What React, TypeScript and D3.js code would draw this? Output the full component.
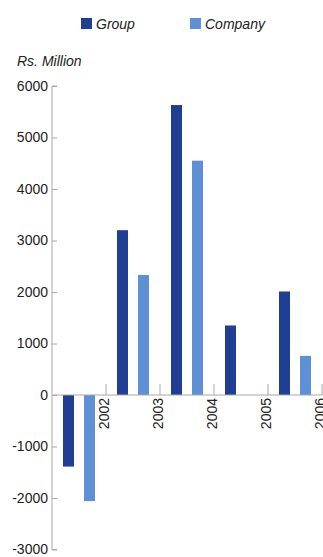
import { useEffect, useRef } from 'react';
import * as d3 from 'd3';

const years = ['2002', '2003', '2004', '2005', '2006'];
const groupValues = [-1390, 3200, 5630, 1350, 2010];
const companyValues = [-2060, 2330, 4550, 0, 760];
const yTicks = [-3000, -2000, -1000, 0, 1000, 2000, 3000, 4000, 5000, 6000];
const seriesNames = ['Group', 'Company'];

const GROUP_COLOR = '#1f3e94';
const COMPANY_COLOR = '#5d90d4';
const AXIS_COLOR = '#a8a8a8';
const TEXT_COLOR = '#222';
const FONT = '"Liberation Sans", Arial, Helvetica, sans-serif';

export default function App() {
  const svgRef = useRef<SVGSVGElement | null>(null);

  useEffect(() => {
    if (!svgRef.current) return;
    const svg = d3.select(svgRef.current);
    svg.selectAll('*').remove();

    const left = 52;
    const right = 322;
    const top = 86;
    const bottom = 549.5;

    const x = d3.scaleBand().domain(years).range([left, right]).padding(0);
    const inner = d3
      .scaleBand()
      .domain(seriesNames)
      .range([0, x.bandwidth()])
      .paddingInner(10 / 21)
      .paddingOuter(11 / 21);
    const y = d3.scaleLinear().domain([-3000, 6000]).range([bottom, top]);

    // Legend
    const legend = svg.append('g').attr('font-family', FONT).attr('font-size', 14);
    const legendX = [81, 190];
    seriesNames.forEach((name, i) => {
      legend
        .append('rect')
        .attr('x', legendX[i])
        .attr('y', 18)
        .attr('width', 11)
        .attr('height', 11)
        .attr('fill', i === 0 ? GROUP_COLOR : COMPANY_COLOR);
      legend
        .append('text')
        .attr('x', legendX[i] + 15)
        .attr('y', 29)
        .attr('font-style', 'italic')
        .attr('fill', TEXT_COLOR)
        .text(name);
    });

    // Unit label
    svg
      .append('text')
      .attr('x', 17)
      .attr('y', 66)
      .attr('font-family', FONT)
      .attr('font-size', 14)
      .attr('font-style', 'italic')
      .attr('fill', TEXT_COLOR)
      .text('Rs. Million');

    // Y axis
    const yAxis = svg
      .append('g')
      .attr('transform', `translate(${left},0)`)
      .call(d3.axisRight(y).tickValues(yTicks).tickSize(5).tickFormat((d) => String(d)));
    yAxis.selectAll('.domain').attr('stroke', AXIS_COLOR).attr('d', `M5,${top}H0V${bottom}H5`);
    yAxis.selectAll('.tick line').attr('stroke', AXIS_COLOR);
    yAxis
      .selectAll('.tick text')
      .attr('x', -4)
      .attr('text-anchor', 'end')
      .attr('font-family', FONT)
      .attr('font-size', 14)
      .attr('fill', TEXT_COLOR);

    // Bars
    const rows = years.map((yr, i) => ({ year: yr, values: [groupValues[i], companyValues[i]] }));
    const barG = svg.append('g');
    rows.forEach((row) => {
      row.values.forEach((v, j) => {
        if (v === 0) return;
        barG
          .append('rect')
          .attr('x', (x(row.year) as number) + (inner(seriesNames[j]) as number))
          .attr('y', y(Math.max(0, v)))
          .attr('width', inner.bandwidth())
          .attr('height', Math.abs(y(v) - y(0)))
          .attr('fill', j === 0 ? GROUP_COLOR : COMPANY_COLOR);
      });
    });

    // X axis along zero
    const xAxis = svg.append('g').attr('transform', `translate(0,${y(0)})`);
    xAxis
      .append('line')
      .attr('x1', left)
      .attr('x2', right)
      .attr('stroke', AXIS_COLOR);
    years.forEach((yr) => {
      const edge = (x(yr) as number) + x.bandwidth();
      xAxis
        .append('line')
        .attr('x1', edge)
        .attr('x2', edge)
        .attr('y1', 0)
        .attr('y2', -11)
        .attr('stroke', AXIS_COLOR);
      xAxis
        .append('text')
        .attr('transform', `translate(${edge - 2},3) rotate(-90)`)
        .attr('text-anchor', 'end')
        .attr('dy', '0.35em')
        .attr('font-family', FONT)
        .attr('font-size', 14)
        .attr('fill', TEXT_COLOR)
        .text(yr);
    });
  }, []);

  return (
    <svg
      ref={svgRef}
      width={323}
      height={557}
      style={{ position: 'absolute', left: 0, top: 0, background: '#fff' }}
    />
  );
}
